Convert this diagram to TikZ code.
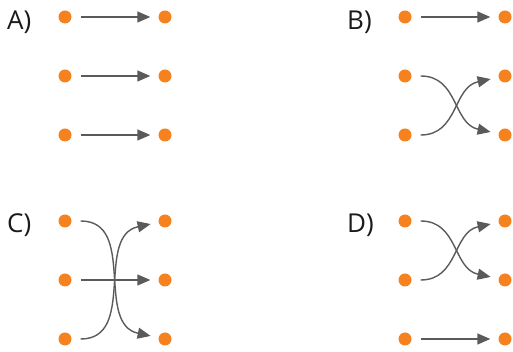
\documentclass[tikz,border=0pt]{standalone}
\usepackage{fontspec}
\setmainfont{Open Sans}
\usetikzlibrary{arrows.meta}
\definecolor{dotorange}{HTML}{F5821F}
\definecolor{linkgray}{HTML}{5A5A5A}
\definecolor{tagblack}{HTML}{1A1A1A}

\begin{document}
\begin{tikzpicture}[x=1pt,y=1pt,>={Triangle[length=13pt,width=11pt]},line join=round,
  dot/.style={circle,fill=dotorange,inner sep=0pt,minimum size=13pt},
  link/.style={->,draw=linkgray,line width=1.4pt,shorten <=9pt,shorten >=8pt},
  down/.style={out=0,in=168,looseness=1.15},
  up/.style={out=0,in=192,looseness=1.15},
  tag/.style={anchor=base west,inner sep=0pt,font=\fontsize{26}{30}\selectfont,text=tagblack}]
\useasboundingbox (0,0) rectangle (513,352);
% --- dots: panel, left column x, top row y
\foreach \p/\x/\y in {a/65/335,b/405/335,c/65/131,d/405/131} {
  \foreach \r in {1,2,3} {
    \node[dot] (\p l\r) at (\x,\y-\r*59+59) {};
    \node[dot] (\p r\r) at (\x+100,\y-\r*59+59) {};
  }
}
% --- panel letters
\node[tag] (ta) at (7,322) {A)};
\node[tag] (tb) at (347,322) {B)};
\node[tag] (tc) at (7,119) {C)};
\node[tag] (td) at (347,119) {D)};
% A: straight
\foreach \r in {1,2,3} \draw[link] (al\r) -- (ar\r);
% B: lower two swapped
\draw[link] (bl1) -- (br1);
\draw[link] (bl2) to[down] (br3);
\draw[link] (bl3) to[up] (br2);
% C: outer two swapped
\draw[link] (cl1) to[down] (cr3);
\draw[link] (cl2) -- (cr2);
\draw[link] (cl3) to[up] (cr1);
% D: upper two swapped
\draw[link] (dl1) to[down] (dr2);
\draw[link] (dl2) to[up] (dr1);
\draw[link] (dl3) -- (dr3);
\end{tikzpicture}
\end{document}
